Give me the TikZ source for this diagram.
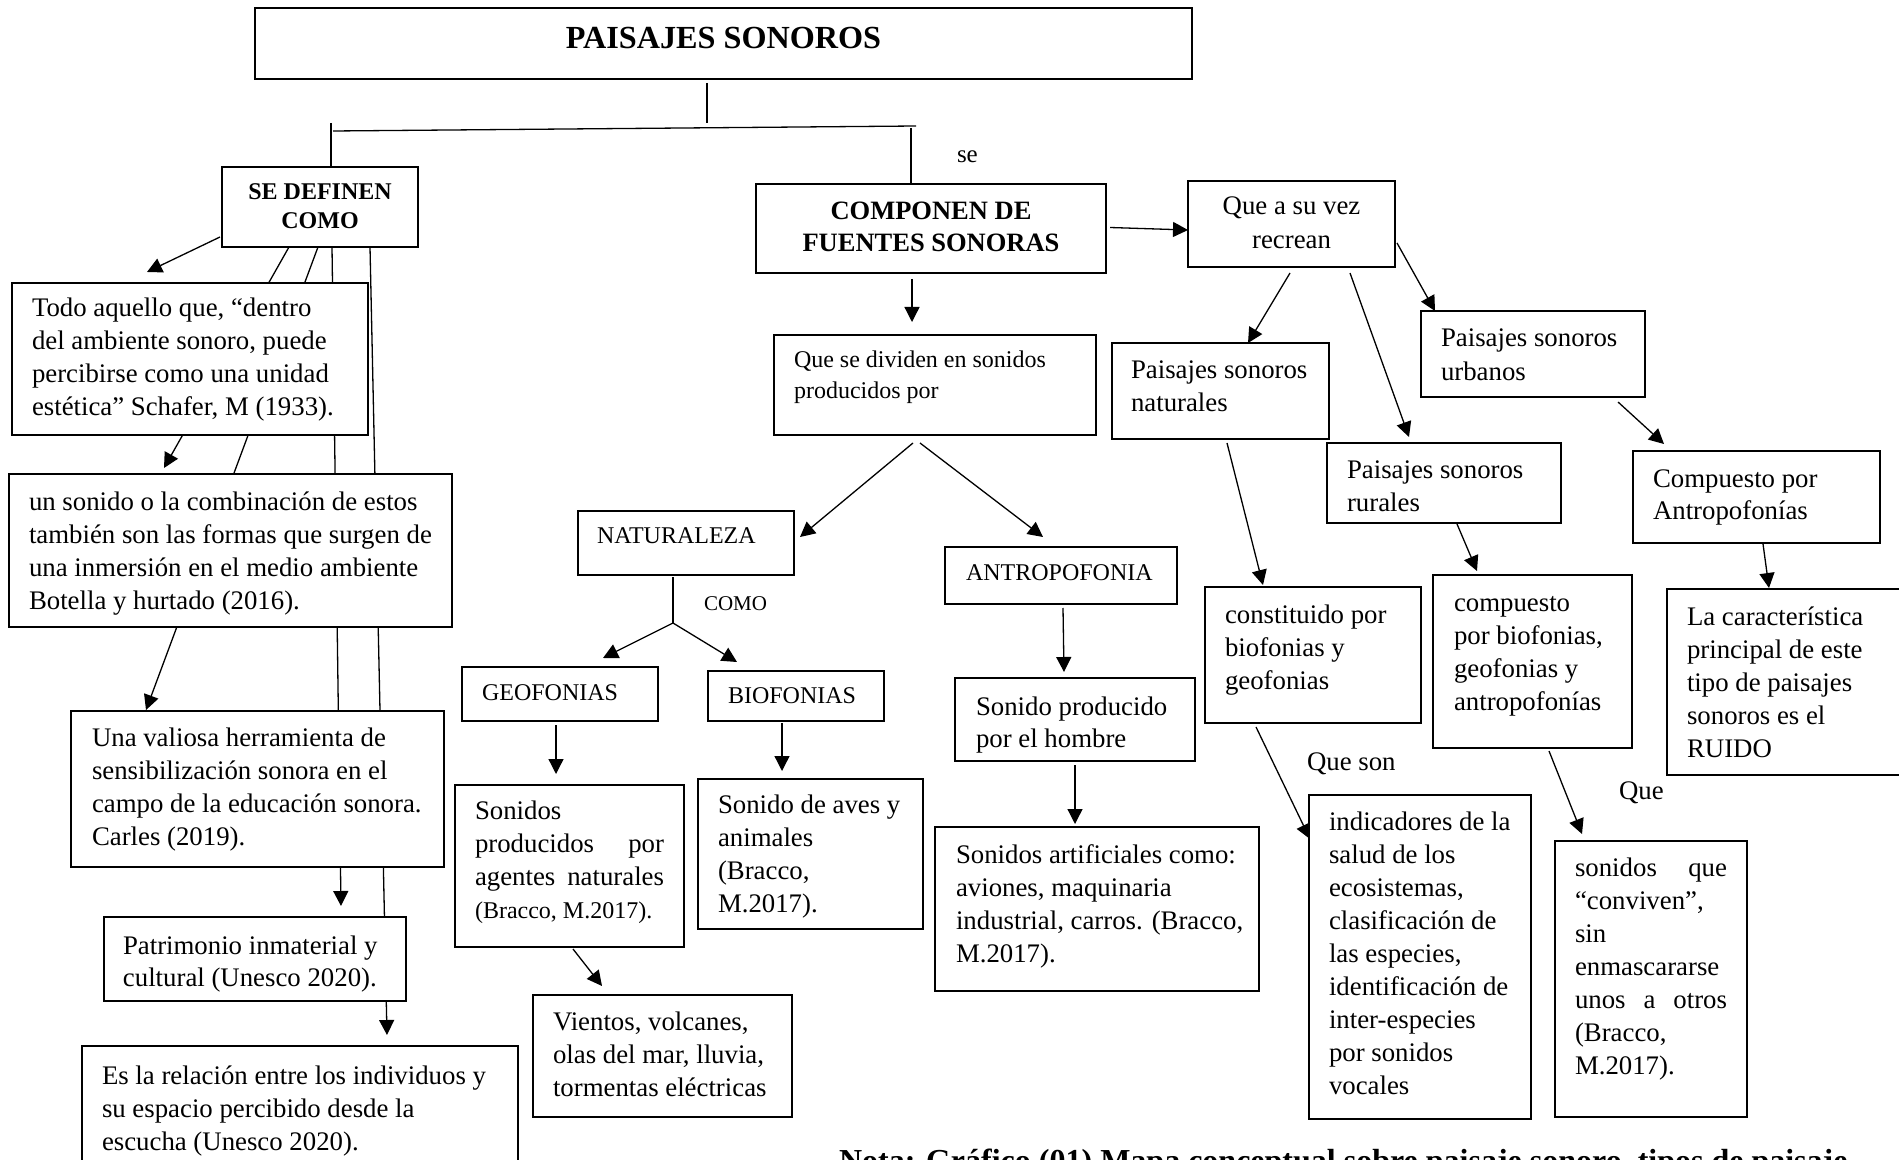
\documentclass[tikz,border=0pt]{standalone}
\usepackage{fontspec}
\setmainfont{Liberation Serif}
\usetikzlibrary{arrows.meta,calc}
\pgfdeclarelayer{bg}
\pgfsetlayers{bg,main}
\newdimen\pxu \pxu=0.5pt
\newcommand\fs[2]{\fontsize{#1}{#2}\selectfont}
\newcommand\bodyf{\fs{13.4}{16.5}}
% ragged box text: width, height, left pad, first baseline, font, text
\newcommand\bt[6]{\parbox[c][#2\pxu][t]{#1\pxu}{#5\vspace*{\dimexpr#4\pxu-\ht\strutbox\relax}\leftskip=#3\pxu\rightskip=-200pt plus 1fil\parfillskip=0pt plus 1fil\noindent\strut#6\par}}
% justified box text
\newcommand\bj[6]{\parbox[c][#2\pxu][t]{#1\pxu}{#5\vspace*{\dimexpr#4\pxu-\ht\strutbox\relax}\leftskip=#3\pxu\rightskip=20\pxu plus 1fil\parfillskip=0pt plus 1fil\noindent\strut#6\par}}
% centred box text: width, height, first baseline, font, text
\newcommand\bc[5]{\parbox[c][#2\pxu][t]{#1\pxu}{#4\vspace*{\dimexpr#3\pxu-\ht\strutbox\relax}\centering\strut#5\par}}
\tikzset{
  box/.style={draw=black, fill=white, rectangle, inner sep=0pt, outer sep=0pt, anchor=north west, line width=0.7pt},
  tbox/.style={box, line width=1.1pt},
  ln/.style={line width=0.65pt, black},
  arr/.style={ln, -{Triangle[length=7.5pt,width=7.5pt]}},
  lbl/.style={inner sep=0pt, outer sep=0pt, anchor=base west}
}
\begin{document}
\begin{tikzpicture}[x=0.5pt,y=-0.5pt]
\useasboundingbox (0,0) rectangle (1899,1160);

% ---------- boxes ----------
\node[box] (title) at (255,8) {\bc{937}{71}{41}{\fs{16.1}{18}\bfseries}{PAISAJES SONOROS}};
\node[box] (sedef) at (222,167) {\bc{196}{80}{33}{\fs{12}{14.5}\bfseries}{SE DEFINEN\\COMO}};
\node[box] (compo) at (756,184) {\bc{350}{89}{36}{\fs{13.25}{16}\bfseries}{COMPONEN DE\\FUENTES SONORAS}};
\node[tbox] (quevez) at (1188,181) {\bc{207}{86}{34}{\fs{13.4}{17}}{Que a su vez\\recrean}};

\node[box] (todo) at (12,283) {\bt{356}{152}{20}{34}{\bodyf}{Todo aquello que, “dentro\\del ambiente sonoro, puede\\percibirse como una unidad\\estética” Schafer, M (1933).}};
\node[box] (unsonido) at (9,474) {\bt{443}{153}{20}{36}{\bodyf}{un sonido o la combinación de estos\\también son las formas que surgen de\\una inmersión en el medio ambiente\\Botella y hurtado (2016).}};
\node[box] (valiosa) at (71,711) {\bt{373}{156}{21}{35}{\bodyf}{Una valiosa herramienta de\\sensibilización sonora en el\\campo de la educación sonora.\\Carles (2019).}};
\node[box] (patri) at (104,917) {\bt{302}{84}{19}{37}{\fs{13.4}{16}}{Patrimonio inmaterial y\\cultural (Unesco 2020).}};
\node[box] (esrel) at (82,1046) {\bt{436}{140}{20}{38}{\bodyf}{Es la relación entre los individuos y\\su espacio percibido desde la\\escucha (Unesco 2020).}};

\node[box] (dividen) at (774,335) {\bt{322}{100}{20}{33}{\fs{12}{15}}{Que se dividen en sonidos\\producidos por}};
\node[box] (natur) at (578,511) {\bt{216}{64}{19}{32}{\fs{12}{15}}{NATURALEZA}};
\node[box] (geo) at (462,667) {\bt{196}{54}{20}{33}{\fs{12}{15}}{GEOFONIAS}};
\node[box] (bio) at (708,671) {\bt{176}{50}{20}{32}{\fs{12}{15}}{BIOFONIAS}};
\node[box] (sprod) at (455,785) {\bj{229}{162}{20}{34}{\bodyf}{Sonidos\\producidos\hfill por\\agentes\hfill naturales\\{\fs{12}{16.5}(Bracco, M.2017).}}};
\node[box] (aves) at (698,779) {\bt{225}{150}{20}{34}{\bodyf}{Sonido de aves y\\animales\\(Bracco,\\M.2017).}};
\node[tbox] (vientos) at (533,995) {\bt{259}{122}{20}{35}{\bodyf}{Vientos, volcanes,\\olas del mar, lluvia,\\tormentas eléctricas}};

\node[tbox] (antro) at (945,547) {\bt{232}{57}{21}{33}{\fs{12}{15}}{ANTROPOFONIA}};
\node[tbox] (hombre) at (955,678) {\bt{240}{83}{21}{37}{\fs{13.4}{16}}{Sonido producido\\por el hombre}};
\node[tbox] (artif) at (935,827) {\bt{324}{164}{21}{36}{\bodyf}{Sonidos artificiales como:\\aviones, maquinaria\\industrial, carros. (Bracco,\\M.2017).}};

\node[tbox] (natpai) at (1112,343) {\bt{217}{96}{19}{35}{\bodyf}{Paisajes sonoros\\naturales}};
\node[tbox] (urb) at (1421,311) {\bt{224}{86}{20}{36}{\bodyf}{Paisajes sonoros\\urbanos}};
\node[tbox] (rur) at (1327,443) {\bt{234}{80}{20}{35}{\bodyf}{Paisajes sonoros\\rurales}};
\node[tbox] (antrop) at (1633,451) {\bt{247}{92}{20}{36}{\fs{13.4}{16}}{Compuesto por\\Antropofonías}};
\node[tbox] (const) at (1205,587) {\bt{216}{136}{20}{36}{\bodyf}{constituido por\\biofonias y\\geofonias}};
\node[tbox] (compu) at (1433,575) {\bt{199}{173}{21}{36}{\bodyf}{compuesto\\por biofonias,\\geofonias y\\antropofonías}};
\node[tbox] (ruido) at (1667,589) {\bt{250}{186}{20}{36}{\bodyf}{La característica\\principal de este\\tipo de paisajes\\sonoros es el\\RUIDO}};
\node[tbox] (indic) at (1309,795) {\bt{222}{324}{20}{35}{\bodyf}{indicadores de la\\salud de los\\ecosistemas,\\clasificación de\\las especies,\\identificación de\\inter-especies\\por sonidos\\vocales}};
\node[tbox] (conv) at (1555,841) {\bj{192}{276}{20}{35}{\bodyf}{sonidos\hfill que\\“conviven”,\\sin\\enmascararse\\unos\hfill a\hfill otros\\(Bracco,\\M.2017).}};

% ---------- labels ----------
\node[lbl, font=\fs{12.5}{15}] (se) at (957,163) {se};
\node[lbl, font=\fs{10.5}{13}] (como) at (704,610) {COMO};
\node[lbl, font=\bodyf] (queson) at (1307,770) {Que son};
\node[lbl, font=\bodyf] (que) at (1619,799) {Que};
\node[lbl, font=\fs{16}{18}\bfseries] (nota) at (839,1171) {Nota: Gráfico (01) Mapa conceptual sobre paisaje sonoro, tipos de paisaje};

\coordinate (tj) at (707,123);
\coordinate (hl) at (333,131);
\coordinate (hr) at (916,126);
\coordinate (nj) at (673,623);

% ---------- connectors ----------
\begin{pgfonlayer}{bg}
\fill[white] (0,0) rectangle (1899,1160);
\draw[ln] ($(title.south)+(-16.5,4)$) -- (tj);
\draw[ln] (hl) -- (hr);
\draw[ln] ($(sedef.north)+(11,-44)$) -- ($(sedef.north)+(11,0)$);
\draw[ln] ($(compo.north)+(-20,-56)$) -- ($(compo.north)+(-20,0)$);

\draw[arr] ($(sedef.south west)+(-2,-10)$) -- ($(todo.north west)+(135,-11)$);
\draw[arr] ($(sedef.south west)+(67,0)$) -- ($(unsonido.north west)+(155,-6)$);
\draw[arr] ($(sedef.south west)+(96,0)$) -- ($(valiosa.north west)+(75,-1)$);
\draw[arr] ($(sedef.south west)+(110,0)$) -- ($(patri.north west)+(237,-11)$);
\draw[arr] ($(sedef.south west)+(148,0)$) -- ($(esrel.north west)+(305,-11)$);

\draw[arr] ($(compo.east)+(4,-1)$) -- ($(quevez.west)+(0,6)$);
\draw[arr] ($(compo.south)+(-19,6)$) -- ($(dividen.north)+(-23,-13)$);
\draw[arr] ($(dividen.south)+(-22,8)$) -- ($(natur.east)+(6,-6)$);
\draw[arr] ($(dividen.south)+(-15,8)$) -- ($(antro.north west)+(98,-10)$);
\draw[ln] ($(natur.south)+(-13,2)$) -- (nj);
\draw[arr] (nj) -- ($(geo.north west)+(141,-9)$);
\draw[arr] (nj) -- ($(bio.north west)+(29,-9)$);
\draw[arr] ($(geo.south west)+(94,4)$) -- ($(sprod.north west)+(101,-11)$);
\draw[arr] ($(bio.south west)+(74,2)$) -- ($(aves.north west)+(84,-8)$);
\draw[arr] ($(sprod.south west)+(118,2)$) -- ($(vientos.north west)+(69,-9)$);
\draw[arr] ($(antro.south west)+(118,4)$) -- ($(hombre.north west)+(109,-6)$);
\draw[arr] ($(hombre.south west)+(120,4)$) -- ($(artif.north west)+(140,-3)$);

\draw[arr] ($(quevez.south west)+(102,6)$) -- ($(natpai.north west)+(136,0)$);
\draw[arr] ($(quevez.south west)+(162,6)$) -- ($(rur.north west)+(82,-6)$);
\draw[arr] ($(quevez.south east)+(2,-24)$) -- ($(urb.north west)+(14,0)$);
\draw[arr] ($(urb.south west)+(197,5)$) -- ($(antrop.north west)+(31,-7)$);
\draw[arr] ($(natpai.south west)+(115,4)$) -- ($(const.north west)+(58,-2)$);
\draw[arr] ($(rur.south west)+(130,1)$) -- ($(compu.north west)+(44,-4)$);
\draw[arr] ($(antrop.south west)+(130,1)$) -- ($(ruido.north west)+(102,-1)$);
\draw[arr] ($(const.south west)+(51,4)$) -- ($(indic.north west)+(1,44)$);
\draw[arr] ($(compu.south west)+(116,3)$) -- ($(conv.north west)+(27,-7)$);
\end{pgfonlayer}
\end{tikzpicture}
\end{document}
